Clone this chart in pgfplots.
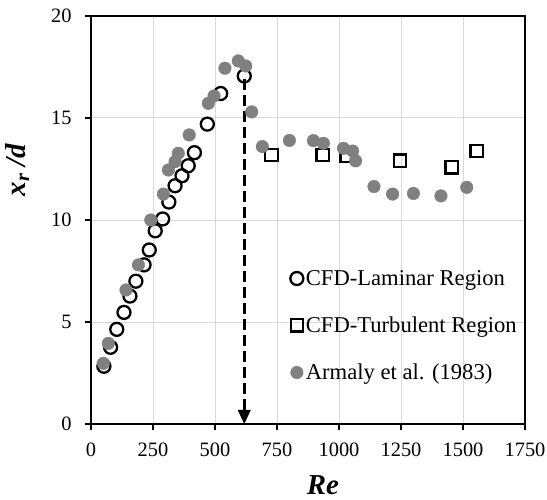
\documentclass[border=0pt]{standalone}
\usepackage{fontspec}
\setmainfont{Liberation Serif}
\usepackage{pgfplots}
\pgfplotsset{compat=1.18}
\usetikzlibrary{arrows.meta}
\definecolor{dotgrey}{HTML}{808080}
\definecolor{gridgrey}{HTML}{D9D9D9}

\begin{document}
\begin{tikzpicture}
\begin{axis}[
  scale only axis,
  width=434bp, height=408bp,
  xmin=0, xmax=1750, ymin=0, ymax=20,
  xtick={0,250,...,1750}, ytick={0,5,...,20},
  /pgf/number format/assume math mode=true,
  /pgf/number format/1000 sep={},
  tick label style={font=\fontsize{20.5}{24}\selectfont},
  xticklabel style={yshift=-9bp},
  yticklabel style={xshift=-10bp},
  tick align=outside, tick pos=left,
  major tick length=6bp,
  every tick/.style={black, line width=2pt},
  axis line style={line width=2.4pt},
  grid=major,
  major grid style={gridgrey, line width=1pt},
  xlabel={\textbf{\textit{Re}}},
  ylabel={\textbf{\textit{x\textsubscript{r} /d}}},
  label style={font=\fontsize{29}{32}\selectfont},
  xlabel style={yshift=-12bp, xshift=15bp},
  ylabel style={yshift=15bp, xshift=50bp},
  legend cell align=left,
  legend style={draw=none, fill=none, at={(0.452,0.387)}, anchor=north west,
    font=\fontsize{22.7}{26}\selectfont, row sep=26bp,
    nodes={inner xsep=2.5bp}},
]
% CFD laminar solutions
\addplot[only marks, mark=o, mark size=6.5bp, line width=2.3pt, black] coordinates {
  (52,2.83) (79,3.76) (104,4.64) (133,5.47) (157,6.27) (181,7.0)
  (214,7.8) (235,8.53) (259,9.47) (289,10.05) (314,10.88) (339,11.68)
  (367,12.17) (392,12.66) (417,13.3) (469,14.7) (523,16.2) (618,17.06)
};
\addlegendentry{CFD-Laminar Region}
% CFD turbulent solutions
\addplot[only marks, mark=square, mark size=6.2bp, line width=2.3pt, black] coordinates {
  (728,13.19) (934,13.19) (1031,13.14) (1246,12.9) (1454,12.58) (1555,13.38)
};
\addlegendentry{CFD-Turbulent Region}
% Experimental data
\addplot[only marks, mark=*, mark size=6.3bp, dotgrey, mark options={draw=dotgrey, fill=dotgrey}] coordinates {
  (50,2.97) (70,3.95) (141,6.57) (191,7.8) (241,10.0) (292,11.27)
  (312,12.45) (339,12.86) (352,13.27) (396,14.17) (473,15.72) (496,16.08)
  (540,17.44) (594,17.8) (624,17.55) (648,15.3) (691,13.6) (800,13.9)
  (897,13.89) (937,13.76) (1018,13.51) (1055,13.38) (1067,12.9) (1141,11.64)
  (1216,11.27) (1300,11.3) (1411,11.18) (1515,11.6)
};
\addlegendentry{Armaly et al. (1983)}
% transition Reynolds number
\addplot[black, line width=3.5pt, dash pattern=on 11bp off 5bp,
  -{Triangle[length=14bp, width=13bp, line width=0pt]}, forget plot]
  coordinates {(618,16.9) (618,0)};
\end{axis}
\pgfresetboundingbox
\path[use as bounding box] (current axis.south west) ++(-91bp,-76bp)
  rectangle ([shift={(22bp,16bp)}]current axis.north east);
\end{tikzpicture}
\end{document}
